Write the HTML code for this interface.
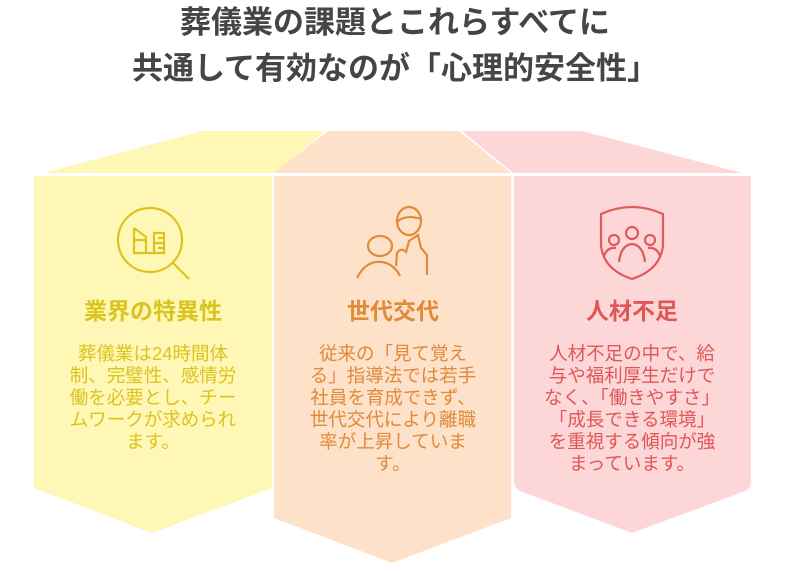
<!DOCTYPE html>
<html><head><meta charset="utf-8"><style>
html,body{margin:0;padding:0;background:#fff;}
svg{display:block;}
text{font-family:"Liberation Sans","Noto Sans CJK JP",sans-serif;}
</style></head><body>
<svg width="785" height="572" viewBox="0 0 785 572" xmlns="http://www.w3.org/2000/svg">
<g font-weight="bold" fill="#454545" font-size="31" text-anchor="middle">
<text x="395" y="33">葬儀業の課題とこれらすべてに</text>
<text x="395" y="79">共通して有効なのが「心理的安全性」</text>
</g>
<polygon points="44,173 202,131 325,131 275,173" fill="#fef7b6"/>
<polygon points="328,131 459,131 511,173 274,173" fill="#fde1c8"/>
<polygon points="462,131 582,131 742,173 513,173" fill="#fdd7d8"/>
<polygon points="34,176 272,176 272,488 152,533 34,488" fill="#fef7b6"/>
<polygon points="274,176 511,176 511,518 392,563 274,518" fill="#fde1c8"/>
<path d="M514,176 L751,176 L751,482 Q751,488 745,491 L632,533 L520,491 Q514,488 514,482 Z" fill="#fdd7d8"/>
<g fill="none" stroke="#dcc41e" stroke-width="2.2">
<circle cx="150" cy="240" r="32"/>
<line x1="172" y1="262" x2="189" y2="279"/>
<path d="M134,228 L134,253 L164,253 L164,233 L154,233 L154,253 M134,228 L146,237 L146,253 M134,240 L146,240 M154,243 L164,243 M158,238 L164,238 M158,248 L164,248"/>
</g>
<g fill="none" stroke="#e08a3a" stroke-width="2.2">
<ellipse cx="409" cy="221" rx="12" ry="14"/>
<path d="M397,222 Q405,214 421,219"/>
<ellipse cx="380" cy="246" rx="12" ry="10"/>
<path d="M357,278 Q366,260 382,262 Q394,264 400,276"/>
<path d="M396,266 L397,253 Q401,247 406,252 L409,241 L418,235 L421,248 L427,255 L427,275"/>
</g>
<g fill="none" stroke="#e05a5a" stroke-width="2.2">
<path d="M601,214 Q632,200 663,214 L663,246 Q660,270 632,279 Q604,270 601,246 Z"/>
<circle cx="632" cy="233" r="6"/>
<circle cx="614" cy="240" r="5"/>
<circle cx="650" cy="240" r="5"/>
<path d="M619,262 Q621,245 632,244 Q643,245 645,262"/>
<path d="M604,256 Q607,247 616,248 M660,256 Q657,247 648,248"/>
</g>
<g font-weight="bold" font-size="23" text-anchor="middle">
<text x="153" y="319" fill="#dcc41e">業界の特異性</text>
<text x="393" y="319" fill="#e08a3a">世代交代</text>
<text x="632" y="319" fill="#e05656">人材不足</text>
</g>
<g font-size="18.5" text-anchor="middle" fill="#dcc41e">
<text x="153" y="360">葬儀業は24時間体</text>
<text x="153" y="382">制、完璧性、感情労</text>
<text x="153" y="404">働を必要とし、チー</text>
<text x="153" y="426">ムワークが求められ</text>
<text x="153" y="448">ます。</text>
</g>
<g font-size="18.5" text-anchor="middle" fill="#e08a3a">
<text x="393" y="360">従来の「見て覚え</text>
<text x="393" y="382">る」指導法では若手</text>
<text x="393" y="404">社員を育成できず、</text>
<text x="393" y="426">世代交代により離職</text>
<text x="393" y="448">率が上昇していま</text>
<text x="393" y="470">す。</text>
</g>
<g font-size="18.5" text-anchor="middle" fill="#e05656">
<text x="632" y="360">人材不足の中で、給</text>
<text x="632" y="382">与や福利厚生だけで</text>
<text x="632" y="404">なく、「働きやすさ」</text>
<text x="632" y="426">「成長できる環境」</text>
<text x="632" y="448">を重視する傾向が強</text>
<text x="632" y="470">まっています。</text>
</g>
</svg>
</body></html>
